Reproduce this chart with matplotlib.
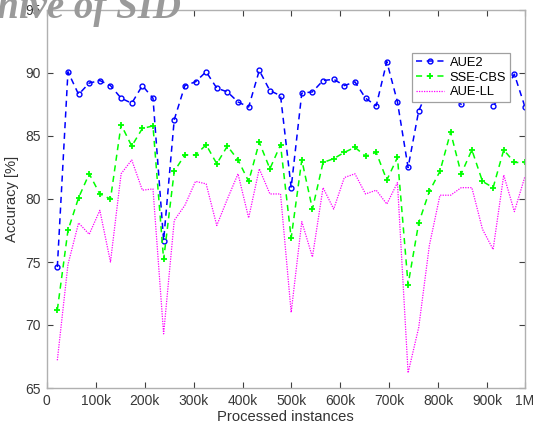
import numpy as np
import matplotlib
matplotlib.use("Agg")
import matplotlib.pyplot as plt

plt.rcParams['font.family'] = ['Liberation Sans', 'DejaVu Sans']

# ---- data ----
n_chunks = 45
instances = [i * 1_000_000 / n_chunks for i in range(1, n_chunks + 1)]

aue2 = [74.6, 90.1, 88.3, 89.2, 89.4, 89.0, 88.0, 87.6, 89.0, 88.0,
        76.7, 86.3, 89.0, 89.3, 90.1, 88.8, 88.5, 87.7, 87.3, 90.2,
        88.6, 88.2, 80.9, 88.4, 88.5, 89.4, 89.5, 89.0, 89.3, 88.0,
        87.4, 90.9, 87.7, 82.5, 87.0, 88.9, 89.4, 88.7, 87.5, 89.2,
        88.9, 87.4, 88.4, 89.9, 87.3]

sse_cbs = [71.2, 77.5, 80.1, 82.0, 80.4, 80.0, 85.9, 84.2, 85.6, 85.8,
           75.2, 82.2, 83.5, 83.5, 84.3, 82.8, 84.2, 83.1, 81.4, 84.5,
           82.4, 84.3, 76.9, 83.1, 79.2, 82.9, 83.2, 83.7, 84.1, 83.4,
           83.7, 81.5, 83.3, 73.2, 78.1, 80.6, 82.2, 85.3, 82.0, 83.9,
           81.4, 80.9, 83.9, 82.9, 82.9]

aue_ll = [67.2, 74.8, 78.1, 77.2, 79.1, 75.0, 82.0, 83.1, 80.7, 80.8,
          69.3, 78.3, 79.5, 81.4, 81.2, 77.9, 80.0, 82.0, 78.5, 82.4,
          80.4, 80.4, 71.0, 78.2, 75.4, 80.9, 79.2, 81.7, 82.0, 80.4,
          80.7, 79.6, 81.3, 66.2, 69.8, 76.3, 80.3, 80.3, 80.9, 80.9,
          77.6, 76.0, 81.9, 79.0, 81.8]

xtick_labels = ['0', '100k', '200k', '300k', '400k', '500k', '600k',
                '700k', '800k', '900k', '1M']
ytick_values = [65, 70, 75, 80, 85, 90, 95]

# ---- figure ----
fig = plt.figure(figsize=(5.33, 4.30), dpi=100)
ax = fig.add_axes([46.7 / 533, 1 - 388 / 430, (525 - 46.7) / 533, (388 - 10) / 430])

ax.plot(instances, aue2, linestyle=(0, (4, 3)), color='#0000ff', lw=1.1,
        marker='o', markersize=3.5, markerfacecolor='none', markeredgewidth=1.0,
        label='AUE2')
ax.plot(instances, sse_cbs, linestyle=(0, (4, 3)), color='#00ff00', lw=1.1,
        marker='+', markersize=4.5, markeredgewidth=1.3, label='SSE-CBS')
ax.plot(instances, aue_ll, linestyle=(0, (1, 1)), color='#ff00ff', lw=0.9,
        label='AUE-LL')

ax.set_xlim(0, 1_000_000)
ax.set_ylim(65, 95)
# tick positions match the reference picture's spacing
tick_step = 102360
xtick_pos = [k * tick_step for k in range(10)] + [1_000_000]
ax.set_xticks(xtick_pos)
ax.set_xticklabels(xtick_labels)
ax.set_yticks(ytick_values)

for s in ax.spines.values():
    s.set_color('#b0b0b0')
    s.set_linewidth(1.0)
ax.tick_params(direction='in', top=True, right=True, length=4, width=0.8,
               color='#404040', labelsize=10, labelcolor='#383838', pad=4)

ax.set_xlabel('Processed instances', fontsize=10.6, color='#333333', labelpad=2)
ax.set_ylabel('Accuracy [%]', fontsize=10.6, color='#333333', labelpad=5)

leg = ax.legend(loc='upper right', bbox_to_anchor=(510 / 533, 1 - 53 / 430),
                bbox_transform=fig.transFigure, fontsize=9.3,
                frameon=True, fancybox=False, framealpha=1, edgecolor='#a0a0a0',
                handlelength=2.2, handletextpad=0.4, borderpad=0.3,
                labelspacing=0.2, borderaxespad=0)
leg.get_frame().set_linewidth(0.9)

# watermark text across the top-left corner
fig.text(181 / 533, 1 - 18 / 430, 'Archive of SID', ha='right', va='baseline',
         fontsize=28, fontweight='bold', fontstyle='italic',
         family=['Liberation Serif', 'DejaVu Serif'], color='#9a9a9a', zorder=10)

fig.savefig('out.png', dpi=100)
